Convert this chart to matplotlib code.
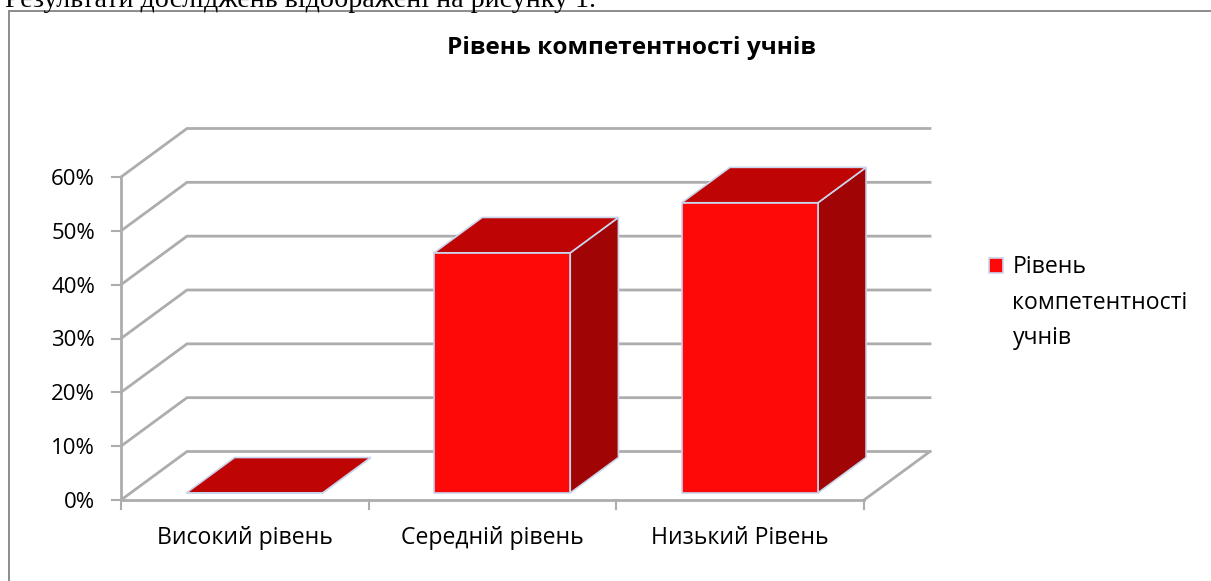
# -*- coding: utf-8 -*-
import matplotlib
matplotlib.use("Agg")
import matplotlib.pyplot as plt
from matplotlib.patches import Polygon, Patch, Rectangle

plt.rcParams['font.family'] = ['Open Sans', 'DejaVu Sans']

categories = ["Високий рівень", "Середній рівень", "Низький Рівень"]
values = [0.0, 44.6, 53.9]
y_ticks = [0, 10, 20, 30, 40, 50, 60]
y_labels = ["0%", "10%", "20%", "30%", "40%", "50%", "60%"]
title = "Рівень компетентності учнів"
legend_lines = ["Рівень", "компетентності", "учнів"]
caption = "Результати досліджень відображені на рисунку 1."

W, H = 1211, 581
fig = plt.figure(figsize=(W / 100, H / 100), dpi=100)
ax = fig.add_axes([121 / W, 1 - 500 / H, (864 - 121) / W, (500 - 177) / H])
ax.set_xlim(0, 3)
ax.set_ylim(0, 60)
ax.axis("off")

# fake 3d: depth 0 = front plane, depth 1 = back wall
dx = 66 / (743 / 3)
dy = 48.5 / (323 / 60)
px_y = 60 / 323


def pt(x, y, d):
    return (x + dx * d, y + dy * d)


grid_c = "#adadad"
for t, lab in zip(y_ticks, y_labels):
    a, b = pt(0, t, 0), pt(0, t, 1)
    c = pt(3, t, 1)
    ax.plot([a[0], b[0], c[0]], [a[1], b[1], c[1]], color=grid_c, lw=2, clip_on=False,
            solid_joinstyle="miter", zorder=1)
    # tick mark
    ax.plot([-0.036, 0], [t, t], color=grid_c, lw=1.5, clip_on=False, zorder=1)
    ax.text(-0.105, t - 2.5 * px_y, lab, ha="right", va="center",
            fontsize=16, color="black", clip_on=False)

# axis lines and floor
ax.plot([0, 0], [0, 60], color=grid_c, lw=2, clip_on=False, zorder=1)
ax.plot([0, 3], [0, 0], color=grid_c, lw=2, clip_on=False, zorder=1)
p, q = pt(3, 0, 0), pt(3, 0, 1)
ax.plot([p[0], q[0]], [p[1], q[1]], color=grid_c, lw=2, clip_on=False, zorder=1)
for i in range(4):
    ax.plot([i, i], [0, -9 * px_y], color=grid_c, lw=1.5, clip_on=False, zorder=1)

# bars
bar_w = 0.55
d0 = 0.146
d1 = 0.146 + 0.73
edge = "#c9d6ee"
for i, v in enumerate(values):
    x0 = i + 0.5 - bar_w / 2
    x1 = x0 + bar_w
    ax.add_patch(Polygon([pt(x1, 0, d0), pt(x1, 0, d1), pt(x1, v, d1), pt(x1, v, d0)],
                         fc="#a00404", ec=edge, lw=1.2, clip_on=False, zorder=3))
    ax.add_patch(Polygon([pt(x0, v, d0), pt(x1, v, d0), pt(x1, v, d1), pt(x0, v, d1)],
                         fc="#bf0404", ec=edge, lw=1.2, clip_on=False, zorder=3))
    ax.add_patch(Polygon([pt(x0, 0, d0), pt(x1, 0, d0), pt(x1, v, d0), pt(x0, v, d0)],
                         fc="#ff0808", ec=edge, lw=1.2, clip_on=False, zorder=4))
    ax.text(i + 0.5, -37.5 * px_y, categories[i], ha="center", va="center",
            fontsize=16.6, color="black", clip_on=False)

# legend: one patch, the wrapped label lines as blank-handle entries
handles = [Patch(fc="#ff0808", ec=edge, lw=1.2, label=legend_lines[0])]
for line in legend_lines[1:]:
    handles.append(Patch(fc="none", ec="none", label=line))
fig.legend(handles=handles, loc="upper left", bbox_to_anchor=(988.5 / W, 1 - 255.5 / H), frameon=False,
           fontsize=16.6, handlelength=0.62, handleheight=0.62, handletextpad=0.42,
           borderpad=0, borderaxespad=0, labelspacing=0.48)

fig.text(631 / W, 1 - 48 / H, title, ha="center", va="center", fontsize=17.6, fontweight="bold")

# chart frame and line of document text above it
fig.add_artist(Rectangle((9 / W, -0.02), 1.05, 1.02 - 11 / H, transform=fig.transFigure,
                         fc="none", ec="#8c8c8c", lw=1.4))
fig.text(5 / W, 1 - 7 / H, caption, ha="left", va="baseline", fontsize=20.2,
         family="Liberation Serif", color="black")

fig.savefig("out.png", dpi=100)
